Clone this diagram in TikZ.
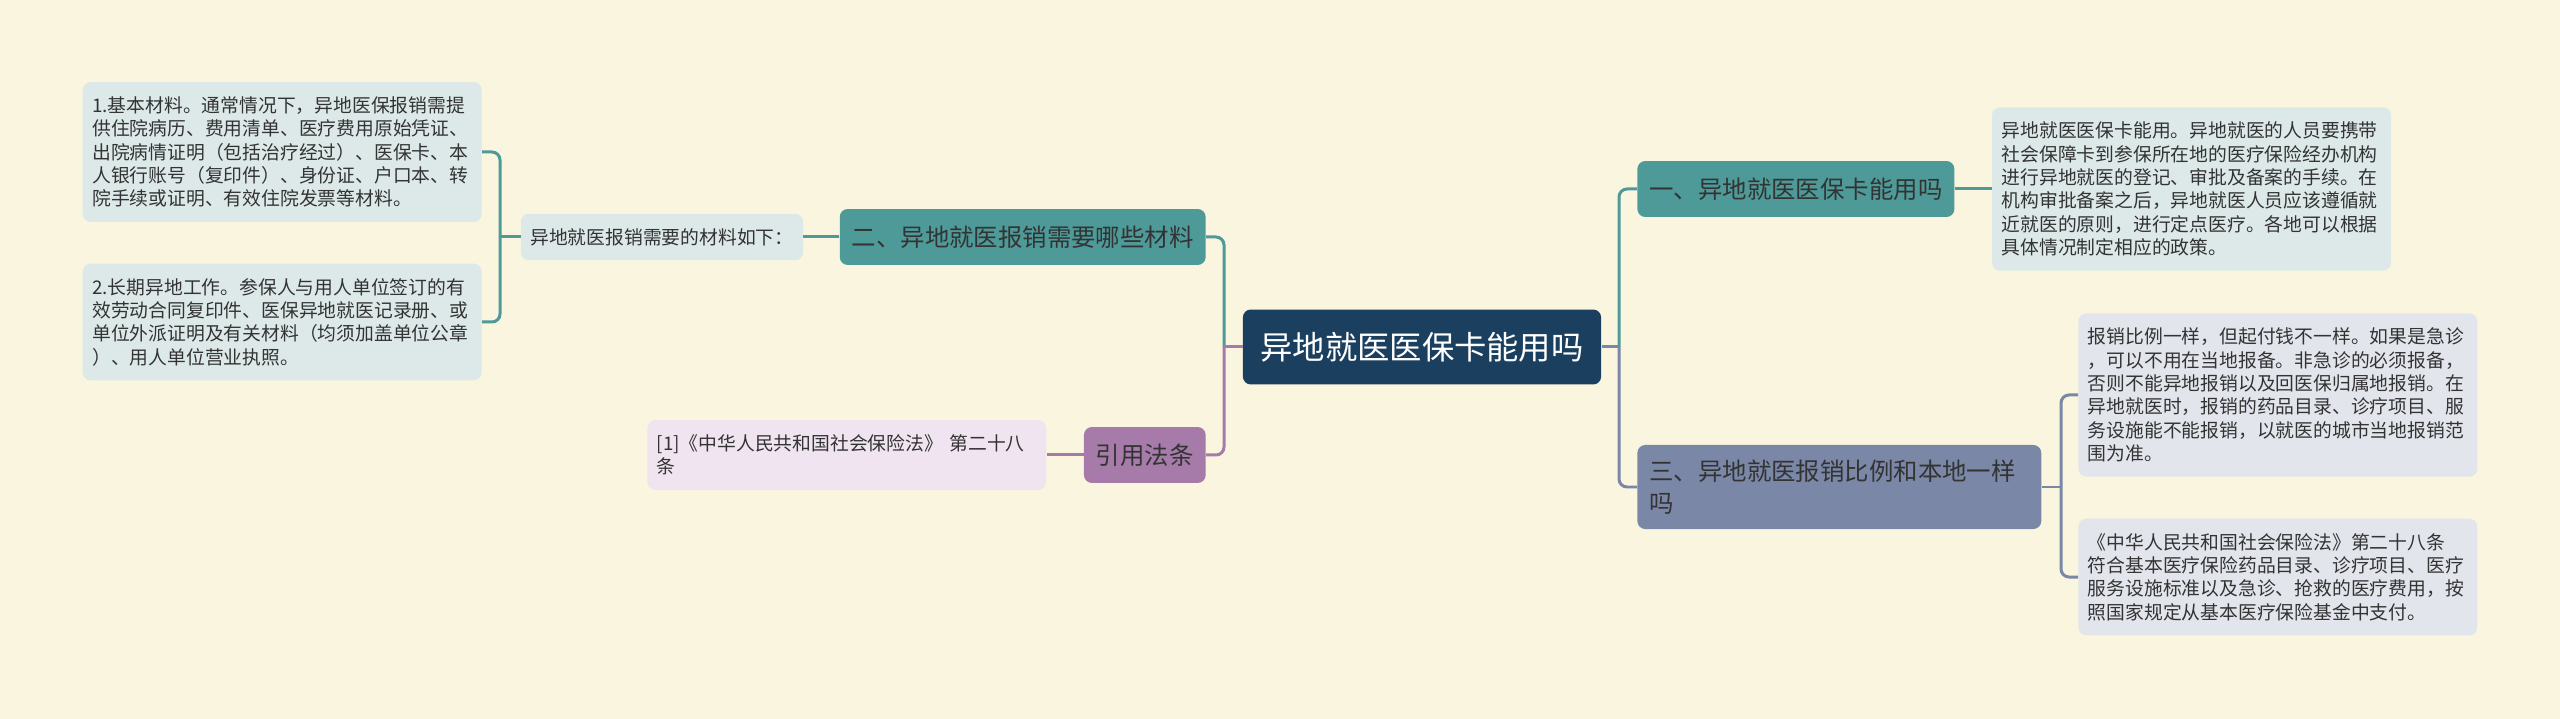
\documentclass[tikz,border=0pt]{standalone}
\usepackage{fontspec}
\setmainfont{Noto Sans CJK SC}
\usetikzlibrary{positioning}
\definecolor{cream}{HTML}{FAF5DF}
\definecolor{navy}{HTML}{1B3F5E}
\definecolor{mteal}{HTML}{4E9A99}
\definecolor{mpurple}{HTML}{A67BA9}
\definecolor{mslate}{HTML}{7A87A6}
\definecolor{lightteal}{HTML}{DCE9E8}
\definecolor{lightpurple}{HTML}{EFE4EF}
\definecolor{lightslate}{HTML}{E2E5EC}
\definecolor{ink}{HTML}{333333}

\begin{document}
\begin{tikzpicture}[x=0.02cm, y=-0.02cm,
root/.style={fill=navy, text=white, rounded corners=0.16cm, font=\fontsize{18.4}{22}\selectfont, inner xsep=0.35cm, minimum height=1.5cm},
branch/.style={text=ink, rounded corners=0.16cm, font=\fontsize{13.9}{18}\selectfont, inner xsep=0.24cm, inner ysep=0.3cm, minimum height=1.12cm, align=left},
leaf/.style={text=ink, rounded corners=0.16cm, font=\fontsize{10.7}{13.3}\selectfont, inner xsep=0.19cm, inner ysep=0.29cm, align=left},
link/.style={line width=0.06cm, rounded corners=0.16cm}]
\fill[cream] (0,0) rectangle (2560,719);
\useasboundingbox (0,0) rectangle (2560,719);

\node[root] (root) at (1422,347) {异地就医医保卡能用吗};
\node[branch, fill=mteal, anchor=east] (b2) at (1206,237) {二、异地就医报销需要哪些材料};
\node[branch, fill=mpurple, anchor=east] (cite) at (1206,455) {引用法条};
\node[branch, fill=mteal, anchor=west] (b1) at (1637,189) {一、异地就医医保卡能用吗};
\node[branch, fill=mslate, anchor=west, text width=7.6cm] (b3) at (1637,487) {三、异地就医报销比例和本地一样\\吗};

% left side
\node[leaf, fill=lightteal, left=0.72cm of b2] (need) {异地就医报销需要的材料如下：};
\node[leaf, fill=lightteal, text width=7.6cm, anchor=east] (m1) at (482,152) {1.基本材料。通常情况下，异地医保报销需提\\供住院病历、费用清单、医疗费用原始凭证、\\出院病情证明（包括治疗经过）、医保卡、本\\人银行账号（复印件）、身份证、户口本、转\\院手续或证明、有效住院发票等材料。};
\node[leaf, fill=lightteal, text width=7.6cm, anchor=east] (m2) at (482,322) {2.长期异地工作。参保人与用人单位签订的有\\效劳动合同复印件、医保异地就医记录册、或\\单位外派证明及有关材料（均须加盖单位公章\\）、用人单位营业执照。};
\node[leaf, fill=lightpurple, text width=7.6cm, left=0.74cm of cite] (law) {[1]《中华人民共和国社会保险法》 第二十八\\条};

% right side
\node[leaf, fill=lightteal, text width=7.6cm, right=0.74cm of b1] (card) {异地就医医保卡能用。异地就医的人员要携带\\社会保障卡到参保所在地的医疗保险经办机构\\进行异地就医的登记、审批及备案的手续。在\\机构审批备案之后，异地就医人员应该遵循就\\近就医的原则，进行定点医疗。各地可以根据\\具体情况制定相应的政策。};
\node[leaf, fill=lightslate, text width=7.6cm, anchor=west] (s1) at (2078,395) {报销比例一样，但起付钱不一样。如果是急诊\\，可以不用在当地报备。非急诊的必须报备，\\否则不能异地报销以及回医保归属地报销。在\\异地就医时，报销的药品目录、诊疗项目、服\\务设施能不能报销，以就医的城市当地报销范\\围为准。};
\node[leaf, fill=lightslate, text width=7.6cm, anchor=west] (s2) at (2078,577) {《中华人民共和国社会保险法》第二十八条\\符合基本医疗保险药品目录、诊疗项目、医疗\\服务设施标准以及急诊、抢救的医疗费用，按\\照国家规定从基本医疗保险基金中支付。};

\coordinate (jl) at (1224,347);
\coordinate (jr) at (1619,347);
\coordinate (jm) at (500,237);
\coordinate (js) at (2061,487);

\draw[link, mteal] (jl) |- (b2.east);
\draw[link, mpurple] (jl) |- (cite.east);
\draw[link, mpurple] (root.west) -- (jl);
\draw[link, mteal] (jr) |- (b1.west);
\draw[link, mslate] (jr) |- (b3.west);
\draw[link, mslate] (root.east) -- (jr);

\draw[link, mteal] (b2.west) -- (need.east);
\draw[link, mteal] (need.west) -- (jm);
\draw[link, mteal] (jm) |- (m1.east);
\draw[link, mteal] (jm) |- (m2.east);
\draw[link, mpurple] (cite.west) -- (law.east);

\draw[link, mteal] (b1.east) -- (card.west);
\draw[link, mslate] (b3.east) -- (js);
\draw[link, mslate] (js) |- (s1.west);
\draw[link, mslate] (js) |- (s2.west);
\end{tikzpicture}
\end{document}
